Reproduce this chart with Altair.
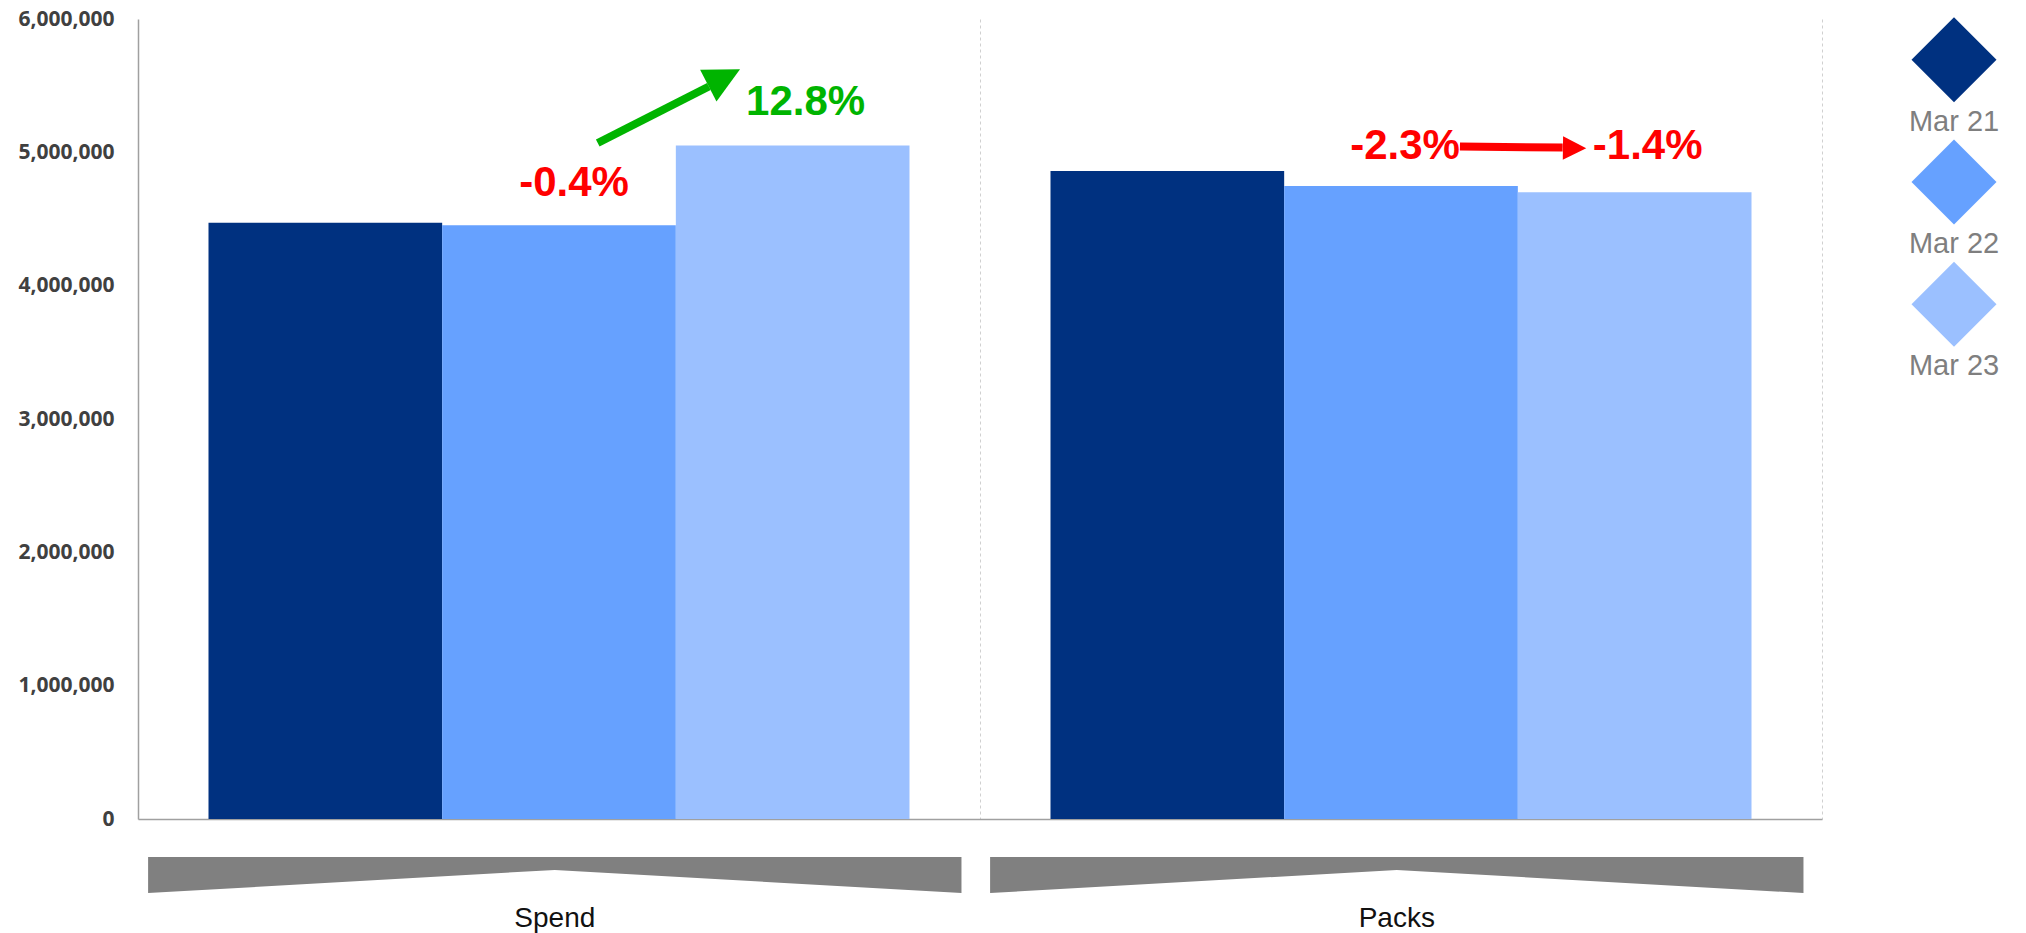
import altair as alt
import pandas as pd

# ---------------- data ----------------
metrics = ["Spend", "Packs"]
periods = ["Mar 21", "Mar 22", "Mar 23"]
spend_values = [4471000, 4453000, 5052000]
packs_values = [4860000, 4748000, 4700000]
bar_colors = ["#003180", "#66A1FF", "#9BC0FF"]
y_ticks = [0, 1000000, 2000000, 3000000, 4000000, 5000000, 6000000]

change_labels = ["-0.4%", "12.8%", "-2.3%", "-1.4%"]
change_metric = ["Spend", "Spend", "Packs", "Packs"]
change_period = ["Mar 22", "Mar 23", "Mar 22", "Mar 23"]
change_colors = ["#FF0000", "#00B400", "#FF0000", "#FF0000"]

# arrows (x in category units 0..2, y in value units)
arrow_x0 = [0.546, 1.570]
arrow_y0 = [5070000, 5044000]
arrow_x1 = [0.678, 1.692]
arrow_y1 = [5494000, 5036000]
arrow_xt = [0.715, 1.720]
arrow_yt = [5623000, 5030000]
arrow_colors = ["#00B400", "#FF0000"]

# styles
label_dx = [15, 13, 4, 13]
label_dy = [-29, -30, -27, -33]
arrow_angles = [62.7, 90.8]
arrow_head_sizes = [5100, 2172]

# ---------------- tables ----------------
bars_df = pd.DataFrame({
    "metric": [m for m in metrics for _ in periods],
    "period": periods * 2,
    "value": spend_values + packs_values,
})
lookup = {(m, p): v for m, p, v in zip(bars_df.metric, bars_df.period, bars_df.value)}

y_scale = alt.Scale(domain=[0, 6000000], nice=False)
y_axis = alt.Axis(values=y_ticks, labelExpr="format(datum.value, ',')",
                  labelFont="Open Sans", labelFontWeight="bold", labelFontSize=21,
                  labelColor="#404040", ticks=False, labelPadding=24,
                  domainColor="#a0a0a0", domainWidth=1.5, grid=False, title=None)
x_enc = alt.X(
    "metric:N", sort=metrics, title=None,
    scale=alt.Scale(paddingInner=0, paddingOuter=0),
    axis=alt.Axis(labels=False, ticks=False, domainColor="#a0a0a0", domainWidth=1.5,
                  grid=True, gridColor="#d0d0d0", gridDash=[3, 3], gridWidth=1,
                  bandPosition=1),
)
xoff = alt.XOffset("period:N", sort=periods,
                   scale=alt.Scale(paddingInner=0, paddingOuter=0.3017))

bars = alt.Chart(bars_df).mark_bar().encode(
    x=x_enc, xOffset=xoff,
    y=alt.Y("value:Q", title=None, scale=y_scale, axis=y_axis),
    color=alt.Color("period:N", scale=alt.Scale(domain=periods, range=bar_colors),
                    legend=None),
)
text_layers = []
for i in range(len(change_labels)):
    tdf = pd.DataFrame({
        "metric": [change_metric[i]], "period": [change_period[i]],
        "label": [change_labels[i]],
        "value": [lookup[(change_metric[i], change_period[i])]],
    })
    text_layers.append(alt.Chart(tdf).mark_text(
        font="Liberation Sans", fontWeight="bold", fontSize=42,
        dx=label_dx[i], dy=label_dy[i], baseline="alphabetic", align="center",
        color=change_colors[i],
    ).encode(
        x=x_enc, xOffset=xoff,
        y=alt.Y("value:Q", title=None, scale=y_scale, axis=y_axis),
        text="label:N",
    ))
main = alt.layer(bars, *text_layers)

xq = alt.Scale(domain=[0, 2], nice=False, zero=False)
HEAD = "M0,0L-0.5,1L0.5,1Z"
arrow_layers = []
for i in range(len(arrow_x0)):
    adf = pd.DataFrame({"x0": [arrow_x0[i]], "y0": [arrow_y0[i]],
                        "x1": [arrow_x1[i]], "y1": [arrow_y1[i]],
                        "xt": [arrow_xt[i]], "yt": [arrow_yt[i]]})
    shaft = alt.Chart(adf).mark_rule(strokeWidth=8, color=arrow_colors[i]).encode(
        x=alt.X("x0:Q", scale=xq, axis=None),
        y=alt.Y("y0:Q", scale=y_scale, axis=y_axis, title=None),
        x2="x1:Q", y2="y1:Q",
    )
    head = alt.Chart(adf).mark_point(
        shape=HEAD, filled=True, opacity=1, size=arrow_head_sizes[i],
        angle=arrow_angles[i], color=arrow_colors[i], strokeWidth=0,
    ).encode(
        x=alt.X("xt:Q", scale=xq, axis=None),
        y=alt.Y("yt:Q", scale=y_scale, axis=y_axis, title=None),
    )
    arrow_layers += [shaft, head]
arrows = alt.layer(*arrow_layers)

top = alt.layer(main, arrows).resolve_scale(x="independent").properties(
    width=1684, height=800)

# ---------------- bottom brackets ----------------
rows = []
for g, m in enumerate(metrics):
    for f, b in zip([0.012, 0.495, 0.978], [0.0, 0.64, 0.0]):
        rows.append({"metric": m, "bx": g + f, "top": 1.0, "bot": b})
br_df = pd.DataFrame(rows)
lab_df = pd.DataFrame({"metric": metrics, "cx": [g + 0.495 for g in range(len(metrics))]})
bxs = alt.Scale(domain=[0, 2], nice=False, zero=False)
bys = alt.Scale(domain=[0, 1], nice=False)
brackets = alt.Chart(br_df).mark_area(color="#808080").encode(
    x=alt.X("bx:Q", scale=bxs, axis=None),
    y=alt.Y("top:Q", scale=bys, axis=None),
    y2="bot:Q",
    detail="metric:N",
)
blabels = alt.Chart(lab_df).mark_text(
    font="Liberation Sans", fontSize=28, color="#111111", baseline="alphabetic", dy=34,
).encode(
    x=alt.X("cx:Q", scale=bxs, axis=None),
    y=alt.datum(0, scale=bys),
    text="metric:N",
)
bottom = alt.layer(brackets, blabels).properties(width=1684, height=36)

# ---------------- legend ----------------
leg_df = pd.DataFrame({"period": periods})
ly = alt.Y("period:N", sort=periods, axis=None, scale=alt.Scale(padding=0.332))
diam = alt.Chart(leg_df).mark_point(shape="diamond", filled=True, size=7225,
                                    opacity=1, strokeWidth=0).encode(
    y=ly,
    color=alt.Color("period:N", scale=alt.Scale(domain=periods, range=bar_colors),
                    legend=None),
)
ltxt = alt.Chart(leg_df).mark_text(
    font="Liberation Sans", fontSize=29, color="#7f7f7f", dy=71,
    baseline="alphabetic",
).encode(y=ly, text="period:N")
legend = alt.layer(diam, ltxt).properties(width=100, height=326)

chart = alt.concat(
    top, legend, bottom, columns=2,
    spacing={"row": 38, "column": 82}, bounds="flush",
).properties(
    padding={"left": 17, "top": 8, "right": 5, "bottom": 0},
    background="white",
).configure_view(strokeWidth=0)

chart.save("out.html", embed_options={"renderer": "svg", "actions": False})
